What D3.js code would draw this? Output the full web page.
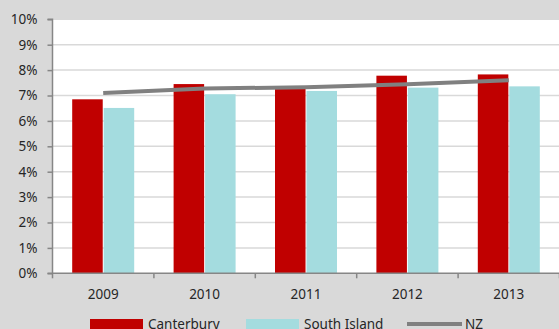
<!DOCTYPE html>
<html><head><meta charset="utf-8">
<script src="https://cdn.jsdelivr.net/npm/d3@7"></script>
<style>
html,body{margin:0;padding:0;background:#d9d9d9;}
svg{display:block;}
text{font-family:"Noto Sans",sans-serif;fill:#262626;}
</style></head>
<body>
<script>
const categories = ["2009","2010","2011","2012","2013"];
const canterbury = [0.0685, 0.0745, 0.0730, 0.0778, 0.0783];
const southIsland = [0.0651, 0.0705, 0.0718, 0.0731, 0.0736];
const nz = [0.0710, 0.0728, 0.0732, 0.0744, 0.0760];
const yTicks = [0,0.01,0.02,0.03,0.04,0.05,0.06,0.07,0.08,0.09,0.10];
const seriesNames = ["Canterbury","South Island","NZ"];
const colors = {"Canterbury":"#c00000","South Island":"#a4dcdf","NZ":"#808080"};

const W=559,H=329;
const svg=d3.select("body").append("svg").attr("width",W).attr("height",H);
svg.append("rect").attr("width",W).attr("height",H).attr("fill","#d9d9d9");

const pLeft=52.5, pRight=559.5, pTop=19.3, pBottom=273.3;
const x=d3.scaleBand().domain(categories).range([pLeft,pRight]).paddingInner(0).paddingOuter(0);
const y=d3.scaleLinear().domain([0,0.10]).range([pBottom,pTop]);
const bw=x.bandwidth();
const xs=d3.scaleBand().domain(["Canterbury","South Island"]).range([19.7,bw-19.7]).paddingInner(0.03);

// plot area
svg.append("rect").attr("x",pLeft).attr("y",pTop).attr("width",pRight-pLeft).attr("height",pBottom-pTop).attr("fill","#ffffff");

// gridlines
svg.append("g").selectAll("line").data(yTicks.filter(d=>d>0)).join("line")
  .attr("x1",pLeft).attr("x2",pRight).attr("y1",d=>y(d)).attr("y2",d=>y(d))
  .attr("stroke","#d9d9d9").attr("stroke-width",1.5);

// bars
const data=categories.map((c,i)=>({c,vals:[{s:"Canterbury",v:canterbury[i]},{s:"South Island",v:southIsland[i]}]}));
const g=svg.append("g");
g.selectAll("g").data(data).join("g").attr("transform",d=>`translate(${x(d.c)},0)`)
 .selectAll("rect").data(d=>d.vals).join("rect")
 .attr("x",d=>xs(d.s)).attr("width",xs.bandwidth())
 .attr("y",d=>y(d.v)).attr("height",d=>y(0)-y(d.v))
 .attr("fill",d=>colors[d.s]);

// line
const line=d3.line().x((d,i)=>x(categories[i])+bw/2).y(d=>y(d));
svg.append("path").datum(nz).attr("d",line).attr("fill","none")
  .attr("stroke",colors.NZ).attr("stroke-width",4).attr("stroke-linecap","butt");

// y axis
const yAxis=d3.axisLeft(y).tickValues(yTicks).tickFormat(d3.format(".0%")).tickSize(5).tickPadding(10);
const ya=svg.append("g").attr("transform",`translate(${pLeft},0)`).call(yAxis);
ya.select(".domain").attr("stroke","#868686").attr("stroke-width",1.5).attr("d",`M-5,${pTop}H0V${pBottom}`);
ya.selectAll(".tick line").attr("stroke","#868686").attr("stroke-width",1.5);
ya.selectAll("text").attr("font-size","13.5px").style("font-family","Noto Sans").attr("fill","#262626");

// x axis
const xa=svg.append("g").attr("transform",`translate(0,${pBottom})`);
xa.append("line").attr("x1",pLeft-5).attr("x2",pRight).attr("y1",0).attr("y2",0).attr("stroke","#868686").attr("stroke-width",1.5);
xa.selectAll(".tk").data(categories.concat(["end"])).join("line")
  .attr("x1",(d,i)=>pLeft+i*bw).attr("x2",(d,i)=>pLeft+i*bw).attr("y1",0).attr("y2",5)
  .attr("stroke","#868686").attr("stroke-width",1.5);
xa.selectAll("text").data(categories).join("text")
  .attr("x",d=>x(d)+bw/2).attr("y",25.5).attr("text-anchor","middle")
  .attr("font-size","13.5px").text(d=>d);

// legend
const leg=svg.append("g");
const legItems=[{s:"Canterbury",x:90},{s:"South Island",x:246},{s:"NZ",x:407}];
legItems.forEach(it=>{
  if(it.s==="NZ"){
    leg.append("line").attr("x1",it.x).attr("x2",it.x+55).attr("y1",324).attr("y2",324)
      .attr("stroke",colors.NZ).attr("stroke-width",4);
  } else {
    leg.append("rect").attr("x",it.x).attr("y",319).attr("width",53).attr("height",14).attr("fill",colors[it.s]);
  }
  leg.append("text").attr("x",it.x+58).attr("y",328.5).attr("font-size","13.5px").text(it.s);
});
</script>
</body></html>
